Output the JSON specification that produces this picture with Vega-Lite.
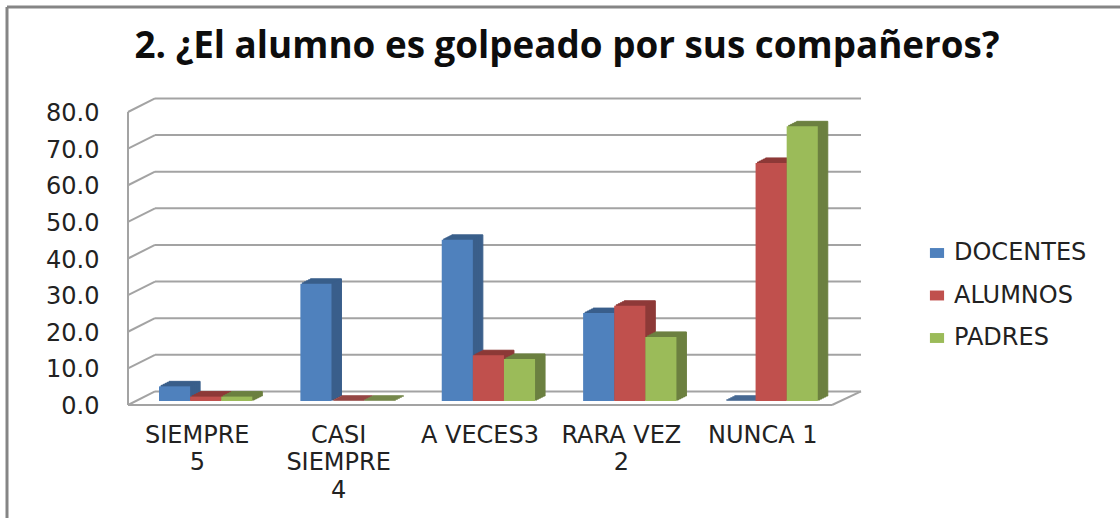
{"$schema":"https://vega.github.io/schema/vega-lite/v6.json","width":704,"height":293,"autosize":"none","padding":{"left":128,"top":112,"right":288,"bottom":113},"background":"white","title":{"text":"2. ¿El alumno es golpeado por sus compañeros?","anchor":"middle","frame":"group","dx":87,"dy":89,"offset":0,"baseline":"alphabetic","font":"Open Sans","fontWeight":"bold","fontSize":36.8,"color":"#0d0d0d"},"config":{"view":{"stroke":null},"axisY":{"title":null,"format":".1f","grid":false,"ticks":false,"domain":false,"labelOverlap":false,"labelPadding":29,"labelOffset":1.5,"labelFont":"DejaVu Sans","labelFontSize":24,"labelColor":"#222222"}},"datasets":{"bars":[{"c":"SIEMPRE|5","s":"DOCENTES","v":4},{"c":"SIEMPRE|5","s":"ALUMNOS","v":1.2},{"c":"SIEMPRE|5","s":"PADRES","v":1.2},{"c":"CASI|SIEMPRE|4","s":"DOCENTES","v":32},{"c":"CASI|SIEMPRE|4","s":"ALUMNOS","v":0},{"c":"CASI|SIEMPRE|4","s":"PADRES","v":0},{"c":"A VECES3","s":"DOCENTES","v":44},{"c":"A VECES3","s":"ALUMNOS","v":12.5},{"c":"A VECES3","s":"PADRES","v":11.5},{"c":"RARA VEZ|2","s":"DOCENTES","v":24},{"c":"RARA VEZ|2","s":"ALUMNOS","v":26},{"c":"RARA VEZ|2","s":"PADRES","v":17.5},{"c":"NUNCA 1","s":"DOCENTES","v":0},{"c":"NUNCA 1","s":"ALUMNOS","v":65},{"c":"NUNCA 1","s":"PADRES","v":75}]},"resolve":{"scale":{"x":"independent","xOffset":"independent"}},"layer":[{"data":{"values":[{"a":-121,"b":-121,"v":108.7,"w":-31},{"a":-121,"b":992,"v":108.7,"w":108.7}]},"mark":{"type":"rule","stroke":"#858585","strokeWidth":3,"clip":false},"encoding":{"x":{"field":"a","type":"quantitative","scale":{"domain":[0,704]},"axis":null},"x2":{"field":"b"},"y":{"field":"v","type":"quantitative","scale":{"domain":[0,80],"nice":false},"axis":{"values":[0,10,20,30,40,50,60,70,80]}},"y2":{"field":"w"}}},{"data":{"values":[{"a":0,"b":27,"v":0,"w":3.7},{"a":0,"b":27,"v":10,"w":13.7},{"a":0,"b":27,"v":20,"w":23.7},{"a":0,"b":27,"v":30,"w":33.7},{"a":0,"b":27,"v":40,"w":43.7},{"a":0,"b":27,"v":50,"w":53.7},{"a":0,"b":27,"v":60,"w":63.7},{"a":0,"b":27,"v":70,"w":73.7},{"a":0,"b":27,"v":80,"w":83.7},{"a":27,"b":733,"v":3.7,"w":3.7},{"a":27,"b":733,"v":13.7,"w":13.7},{"a":27,"b":733,"v":23.7,"w":23.7},{"a":27,"b":733,"v":33.7,"w":33.7},{"a":27,"b":733,"v":43.7,"w":43.7},{"a":27,"b":733,"v":53.7,"w":53.7},{"a":27,"b":733,"v":63.7,"w":63.7},{"a":27,"b":733,"v":73.7,"w":73.7},{"a":27,"b":733,"v":83.7,"w":83.7},{"a":0,"b":704,"v":0,"w":0},{"a":704,"b":733,"v":0,"w":3.7},{"a":0,"b":0,"v":0,"w":80}]},"mark":{"type":"rule","stroke":"#a3a3a3","strokeWidth":2,"clip":false},"encoding":{"x":{"field":"a","type":"quantitative","scale":{"domain":[0,704]},"axis":null},"x2":{"field":"b"},"y":{"field":"v","type":"quantitative","axis":{"values":[0,10,20,30,40,50,60,70,80]}},"y2":{"field":"w"}}},{"data":{"name":"bars"},"mark":{"type":"bar","yOffset":-9},"encoding":{"x":{"field":"c","type":"nominal","sort":null,"scale":{"paddingInner":0.34,"paddingOuter":0.16},"axis":null},"y":{"field":"v","type":"quantitative","axis":{"values":[0,10,20,30,40,50,60,70,80]}},"xOffset":{"field":"s","type":"nominal","sort":["DOCENTES","ALUMNOS","PADRES"],"scale":{"range":[18.4,111.7]}},"color":{"field":"s","type":"nominal","scale":{"domain":["PADRES","ALUMNOS","DOCENTES"],"range":["#6C8040","#8E3A38","#3A5F8B"]},"legend":null},"stroke":{"field":"s","type":"nominal","scale":{"domain":["PADRES","ALUMNOS","DOCENTES"],"range":["#6C8040","#8E3A38","#3A5F8B"]},"legend":null}}},{"data":{"name":"bars"},"mark":{"type":"bar","yOffset":-8},"encoding":{"x":{"field":"c","type":"nominal","sort":null,"scale":{"paddingInner":0.34,"paddingOuter":0.16},"axis":null},"y":{"field":"v","type":"quantitative","axis":{"values":[0,10,20,30,40,50,60,70,80]}},"xOffset":{"field":"s","type":"nominal","sort":["DOCENTES","ALUMNOS","PADRES"],"scale":{"range":[16.4,109.7]}},"color":{"field":"s","type":"nominal","legend":null},"stroke":{"field":"s","type":"nominal","legend":null}}},{"data":{"name":"bars"},"mark":{"type":"bar","yOffset":-7},"encoding":{"x":{"field":"c","type":"nominal","sort":null,"scale":{"paddingInner":0.34,"paddingOuter":0.16},"axis":null},"y":{"field":"v","type":"quantitative","axis":{"values":[0,10,20,30,40,50,60,70,80]}},"xOffset":{"field":"s","type":"nominal","sort":["DOCENTES","ALUMNOS","PADRES"],"scale":{"range":[14.4,107.7]}},"color":{"field":"s","type":"nominal","legend":null},"stroke":{"field":"s","type":"nominal","legend":null}}},{"data":{"name":"bars"},"mark":{"type":"bar","yOffset":-6},"encoding":{"x":{"field":"c","type":"nominal","sort":null,"scale":{"paddingInner":0.34,"paddingOuter":0.16},"axis":null},"y":{"field":"v","type":"quantitative","axis":{"values":[0,10,20,30,40,50,60,70,80]}},"xOffset":{"field":"s","type":"nominal","sort":["DOCENTES","ALUMNOS","PADRES"],"scale":{"range":[12.4,105.7]}},"color":{"field":"s","type":"nominal","legend":null},"stroke":{"field":"s","type":"nominal","legend":null}}},{"data":{"name":"bars"},"mark":{"type":"bar","yOffset":-5},"encoding":{"x":{"field":"c","type":"nominal","sort":null,"scale":{"paddingInner":0.34,"paddingOuter":0.16},"axis":null},"y":{"field":"v","type":"quantitative","axis":{"values":[0,10,20,30,40,50,60,70,80]}},"xOffset":{"field":"s","type":"nominal","sort":["DOCENTES","ALUMNOS","PADRES"],"scale":{"range":[10.4,103.7]}},"color":{"field":"s","type":"nominal","legend":null},"stroke":{"field":"s","type":"nominal","legend":null}}},{"data":{"name":"bars"},"mark":{"type":"bar","yOffset":-4},"encoding":{"x":{"field":"c","type":"nominal","sort":null,"scale":{"paddingInner":0.34,"paddingOuter":0.16},"axis":{"title":null,"labelAngle":0,"labelExpr":"split(datum.label,'|')","ticks":false,"domain":false,"labelFont":"DejaVu Sans","labelFontSize":24,"labelColor":"#222222","labelPadding":18,"labelLineHeight":27.5,"labelBaseline":"top","labelLimit":200}},"y":{"field":"v","type":"quantitative","axis":{"values":[0,10,20,30,40,50,60,70,80]}},"xOffset":{"field":"s","type":"nominal","sort":["DOCENTES","ALUMNOS","PADRES"],"scale":{"range":[8.4,101.7]}},"fill":{"field":"s","type":"nominal","scale":{"domain":["DOCENTES","ALUMNOS","PADRES"],"range":["#4F81BD","#C0504D","#9BBB59"]},"legend":{"orient":"none","legendX":797,"legendY":129,"labelFont":"DejaVu Sans","labelFontSize":24,"labelColor":"#222222","title":null,"rowPadding":18.5,"symbolType":"M-1,-0.7H1V0.7H-1Z","symbolSize":200,"symbolStrokeWidth":0,"labelOffset":5}}}}]}
